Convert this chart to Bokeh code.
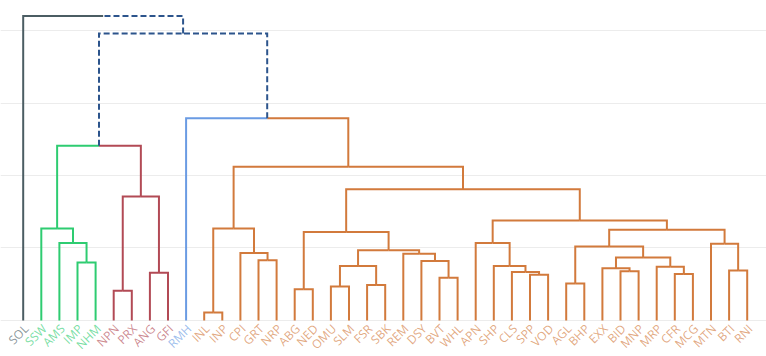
import math
from bokeh.plotting import figure
from bokeh.models import Range1d, Grid, FixedTicker, ColumnDataSource
from bokeh.core.properties import value
from bokeh.embed import file_html
from bokeh.resources import INLINE

# ---- data -------------------------------------------------------------
leaves = ["SOL", "SSW", "AMS", "IMP", "NHM", "NPN", "PRX", "ANG", "GFI", "RMH",
          "INL", "INP", "CPI", "GRT", "NRP", "ABG", "NED", "OMU", "SLM", "FSR",
          "SBK", "REM", "DSY", "BVT", "WHL", "APN", "SHP", "CLS", "SPP", "VOD",
          "AGL", "BHP", "EXX", "BID", "MNP", "MRP", "CFR", "MCG", "MTN", "BTI", "RNI"]

leaf_cluster = (["gray"] + ["green"] * 4 + ["red"] * 4 + ["blue"]
                + ["orange"] * 31)

# merges: left child, right child (leaf name or merge index "m#"), height
merge_left = ["IMP", "AMS", "SSW", "NPN", "ANG", "m3", "m2", "INL", "GRT", "CPI",
              "m7", "ABG", "OMU", "FSR", "m12", "BVT", "DSY", "REM", "m14", "m11",
              "SPP", "CLS", "SHP", "APN", "AGL", "BID", "EXX", "CFR", "MRP", "m26",
              "m24", "BTI", "MTN", "m30", "m23", "m19", "m10", "RMH", "m6", "SOL"]
merge_right = ["NHM", "m0", "m1", "PRX", "GFI", "m4", "m5", "INP", "NRP", "m8",
               "m9", "NED", "SLM", "SBK", "m13", "WHL", "m15", "m16", "m17", "m18",
               "VOD", "m20", "m21", "m22", "BHP", "MNP", "m25", "MCG", "m27", "m28",
               "m29", "RNI", "m31", "m32", "m33", "m34", "m35", "m36", "m37", "m38"]
merge_height = [0.80, 1.07, 1.27, 0.41, 0.66, 1.71, 2.41, 0.11, 0.83, 0.93,
                1.27, 0.43, 0.47, 0.49, 0.75, 0.59, 0.82, 0.92, 0.97, 1.22,
                0.63, 0.67, 0.75, 1.07, 0.51, 0.68, 0.72, 0.64, 0.74, 0.87,
                1.02, 0.69, 1.06, 1.25, 1.38, 1.81, 2.12, 2.79, 3.96, 4.20]

grid_ticks = [0, 1, 2, 3, 4]

# ---- styles -----------------------------------------------------------
line_colors = {"gray": "#4b5d63", "green": "#2ecc71", "red": "#b24a55",
               "blue": "#6a9be3", "orange": "#d27a3c"}
mixed_color = "#2c548c"

# ---- layout computation ----------------------------------------------
pos = {}
clus = {}
hgt = {}
for i, name in enumerate(leaves):
    pos[name] = float(i)
    clus[name] = leaf_cluster[i]
    hgt[name] = 0.0

groups = {}  # (color, dashed) -> list of xs, ys


def add(key, xs, ys):
    g = groups.setdefault(key, ([], []))
    g[0].append(xs)
    g[1].append(ys)


for k, (l, r, h) in enumerate(zip(merge_left, merge_right, merge_height)):
    mid = (pos[l] + pos[r]) / 2.0
    for child in (l, r):
        c = clus[child]
        key = (line_colors[c], False) if c is not None else (mixed_color, True)
        add(key, [pos[child], pos[child], mid], [hgt[child], h, h])
    name = "m%d" % k
    pos[name] = mid
    hgt[name] = h
    clus[name] = clus[l] if clus[l] == clus[r] else None

# ---- figure ----------------------------------------------------------
W, H = 766, 356
p = figure(width=W, height=H, output_backend="svg", toolbar_location=None,
           x_axis_type=None, y_axis_type=None,
           x_range=Range1d(-1.254, 41.066), y_range=Range1d(-0.497, 4.414),
           min_border=0, min_border_left=0, min_border_right=0,
           min_border_top=0, min_border_bottom=0)
p.outline_line_color = None
p.background_fill_color = "white"
p.border_fill_color = "white"

p.add_layout(Grid(dimension=1, ticker=FixedTicker(ticks=grid_ticks),
                  grid_line_color="#ececec", grid_line_width=1))

for (color, dashed), (xs, ys) in groups.items():
    kw = dict(line_color=color, line_width=2, line_join="miter")
    if dashed:
        kw["line_dash"] = "6 3"
    p.multi_line(xs=xs, ys=ys, **kw)

label_src = ColumnDataSource(dict(
    x=[pos[n] for n in leaves],
    y=[0.0] * len(leaves),
    text=leaves,
    color=[line_colors[c] for c in leaf_cluster],
))
p.text(x="x", y="y", text="text", source=label_src, text_color="color",
       text_alpha=0.65, angle=math.pi / 4, text_align="right",
       text_baseline="middle", x_offset=3, y_offset=6,
       text_font=value("Open Sans"), text_font_size="12px")

open("out.html", "w").write(file_html(p, INLINE))
